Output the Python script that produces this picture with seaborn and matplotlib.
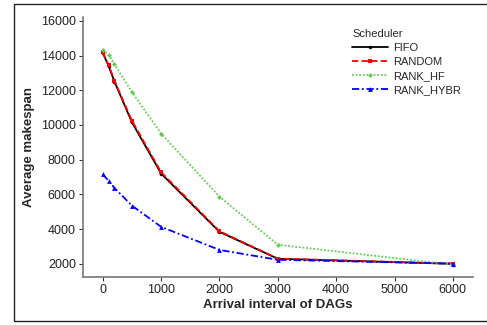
import matplotlib
matplotlib.use("Agg")
import matplotlib.pyplot as plt
import matplotlib.patches as mpatches
import seaborn as sns
import pandas as pd

# Arrival interval of DAGs (x) and average makespan per scheduler
intervals = [0, 100, 200, 500, 1000, 2000, 3000, 6000]
fifo = [14150, 13400, 12500, 10150, 7200, 3840, 2290, 2000]
random_ = [14200, 13450, 12550, 10250, 7280, 3880, 2300, 2010]
rank_hf = [14350, 14050, 13500, 11900, 9500, 5870, 3100, 1950]
rank_hybr = [7150, 6780, 6370, 5350, 4130, 2800, 2230, 2010]

schedulers = ["FIFO", "RANDOM", "RANK_HF", "RANK_HYBR"]
series = [fifo, random_, rank_hf, rank_hybr]

rows = []
for name, vals in zip(schedulers, series):
    for x, y in zip(intervals, vals):
        rows.append({"interval": x, "makespan": y, "Scheduler": name})
df = pd.DataFrame(rows)

sns.set_style("white")
plt.rcParams["font.family"] = ["Liberation Sans", "DejaVu Sans"]

fig = plt.figure(figsize=(4.87, 3.25), dpi=100)
ax = fig.add_axes([0.170, 0.148, 0.801, 0.800])

palette = {"FIFO": "#000000", "RANDOM": "#FF0000",
           "RANK_HF": "#66CC55", "RANK_HYBR": "#0000FF"}
dashes = {"FIFO": "", "RANDOM": (3.5, 1.8), "RANK_HF": (1, 1),
          "RANK_HYBR": (4, 1.5, 1, 1.5)}
markers = {"FIFO": "o", "RANDOM": "s", "RANK_HF": "D", "RANK_HYBR": "^"}
msizes = {"FIFO": 2.5, "RANDOM": 3.5, "RANK_HF": 2.5, "RANK_HYBR": 3.5}

sns.lineplot(data=df, x="interval", y="makespan", hue="Scheduler",
             style="Scheduler", palette=palette, dashes=dashes,
             markers=markers, markeredgewidth=0, linewidth=1.3,
             ax=ax, legend="full")

for line, name in zip(ax.lines, schedulers):
    line.set_markersize(msizes[name])

ax.set_xlim(-343, 6343)
ax.set_ylim(1245, 16230)
ax.set_xticks([0, 1000, 2000, 3000, 4000, 5000, 6000])
ax.set_yticks([2000, 4000, 6000, 8000, 10000, 12000, 14000, 16000])

for side in ["top", "right"]:
    ax.spines[side].set_visible(False)
for side in ["left", "bottom"]:
    ax.spines[side].set_color("#777777")
    ax.spines[side].set_linewidth(1.2)

ax.tick_params(axis="both", which="both", direction="out", length=3,
               width=0.8, color="#333333", labelsize=9,
               labelcolor="#222222", left=True, bottom=True, pad=2)

ax.set_xlabel("Arrival interval of DAGs", fontsize=9.5, fontweight="bold",
              labelpad=2)
ax.set_ylabel("Average makespan", fontsize=9.5, fontweight="bold",
              labelpad=4)

handles, labels = ax.get_legend_handles_labels()
for h, name in zip(handles, labels):
    if name in msizes:
        h.set_markersize(msizes[name])
leg = ax.legend(handles, labels, title="Scheduler", loc="upper left",
                bbox_to_anchor=(0.68, 0.97), frameon=False, fontsize=8,
                title_fontsize=8, handlelength=3.2, handletextpad=0.5,
                labelspacing=0.35, borderaxespad=0)
leg._legend_box.align = "left"

# Outer frame around the figure
fig.patches.append(mpatches.Rectangle((14 / 487, 4 / 325), 1.0, 317 / 325,
                                      transform=fig.transFigure,
                                      fill=False, edgecolor="#222222",
                                      linewidth=1.0))

fig.savefig("out.png", dpi=100)
